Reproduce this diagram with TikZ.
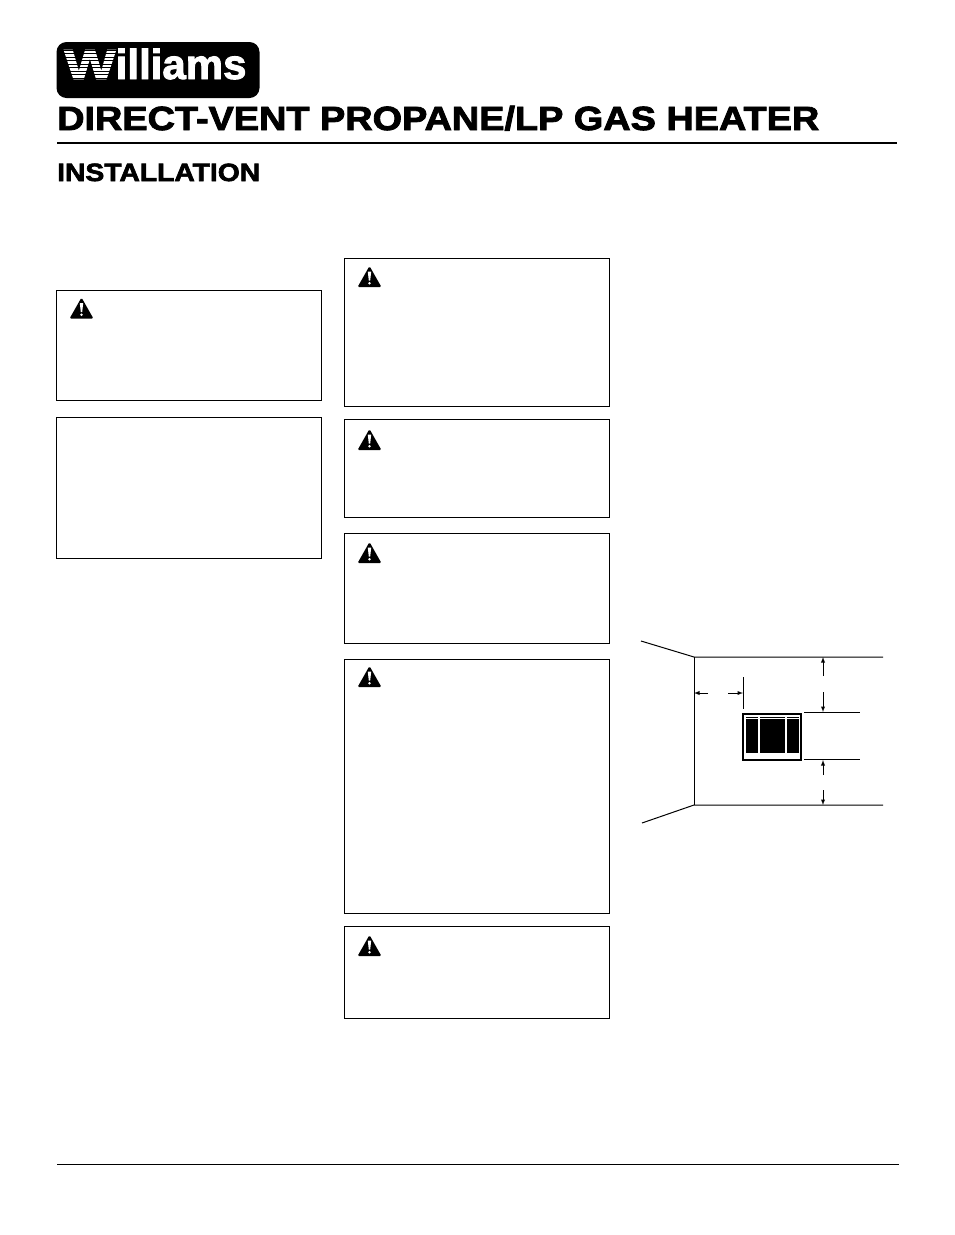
\documentclass[tikz,border=0pt]{standalone}
\usepackage{fontspec}
\setmainfont{Liberation Sans}
\newfontfamily\widefont[FakeStretch=1.13,FakeBold=2.6]{Liberation Sans Bold}
\newfontfamily\logofont[FakeBold=2.2]{Liberation Sans Bold}
\usetikzlibrary{shapes,arrows}
\tikzstyle{warnbox} = [rectangle, draw, line width=0.9pt, anchor=north west, inner sep=0pt, outer sep=0pt]
\tikzstyle{wallline} = [line width=1pt]
\tikzstyle{dimline} = [line width=0.9pt]
\newcommand{\warnmark}[1]{
   \begin{scope}[shift={#1}]
      \fill[rounded corners=1.5pt] (0,-11) -- (12,10.2) -- (-12,10.2) -- cycle;
      \fill[white] (-1.7,-5.5) -- (1.7,-5.5) -- (0.7,3.6) -- (-0.7,3.6) -- cycle;
      \fill[white] (0,6.3) circle (1.4);
   \end{scope}
}
\begin{document}
\begin{tikzpicture}[x=1pt, y=-1pt, >=latex]
   \useasboundingbox (0,0) rectangle (954,1235);
   % header
   \node[fill=black, rounded corners=10pt, minimum width=203pt, minimum height=56pt, inner sep=0pt] (logo) at (158,70) {};
   \node[anchor=base west, inner sep=0pt, text=white] (brand) at (64,79) {\logofont\fontsize{42}{42}\selectfont \scalebox{1.3}[1]{W}illiams};
   \foreach \y in {50,53.5,...,78}
      \draw[black, line width=0.9pt] (62,\y) -- (118,\y);
   \node[anchor=base west, inner sep=0pt] (title) at (57,130) {\widefont\fontsize{33.5}{33.5}\selectfont DIRECT-VENT PROPANE/LP GAS HEATER};
   \node[anchor=base west, inner sep=0pt] (heading) at (57,181) {\widefont\fontsize{25}{25}\selectfont INSTALLATION};
   \coordinate (titleL) at (57,143);
   \coordinate (titleR) at (897,143);
   \coordinate (footL) at (57,1164);
   \coordinate (footR) at (899,1164);
   \draw[line width=1.8pt] (titleL) -- (titleR);
   \draw[line width=0.9pt] (footL) -- (footR);

   % boxes
   \node[warnbox, minimum width=264.5pt, minimum height=109.5pt] (boxA) at (56.8,290.8) {};
   \node[warnbox, minimum width=264.5pt, minimum height=140.5pt] (boxB) at (56.8,417.8) {};
   \node[warnbox, minimum width=264.5pt, minimum height=147.5pt] (boxC) at (344.8,258.8) {};
   \node[warnbox, minimum width=264.5pt, minimum height=97.5pt]  (boxD) at (344.8,419.8) {};
   \node[warnbox, minimum width=264.5pt, minimum height=109.5pt] (boxE) at (344.8,533.8) {};
   \node[warnbox, minimum width=264.5pt, minimum height=253.5pt] (boxF) at (344.8,659.8) {};
   \node[warnbox, minimum width=264.5pt, minimum height=91.5pt]  (boxG) at (344.8,926.8) {};
   \warnmark{(81.5,308.5)}
   \warnmark{(369.5,277)}
   \warnmark{(369.5,440)}
   \warnmark{(369.5,553)}
   \warnmark{(369.5,677)}
   \warnmark{(369.5,946)}

   % wall
   \coordinate (cornerT) at (694,657);
   \coordinate (cornerB) at (694,805);
   \draw[wallline] (641,641) -- (cornerT) -- (883,657);
   \draw[wallline] (642,823) -- (cornerB) -- (883,805);
   \draw[wallline] (cornerT) -- (cornerB);

   % heater
   \node[rectangle, draw, line width=2pt, anchor=north west, inner sep=0pt, minimum width=58pt, minimum height=46pt] (heater) at (742,712.5) {};
   \fill (745.5,717) rectangle (758,752.5);
   \fill (759.5,717) rectangle (785,752.5);
   \fill (786.5,717) rectangle (799,752.5);
   \draw[white, line width=0.8pt] (745.5,718.8) -- (799,718.8);

   % dimensions
   \coordinate (sideA) at (708,693);
   \coordinate (sideB) at (694,693);
   \coordinate (sideC) at (728,693);
   \coordinate (sideD) at (743,693);
   \coordinate (upA) at (823,676);
   \coordinate (upB) at (823,657);
   \coordinate (upC) at (823,692);
   \coordinate (upD) at (823,712);
   \coordinate (lowA) at (823,775);
   \coordinate (lowB) at (823,760);
   \coordinate (lowC) at (823,790);
   \coordinate (lowD) at (823,805);
   \draw[dimline] (743,677) -- (743,709);
   \draw[dimline] (804,712) -- (860,712);
   \draw[dimline] (804,759.5) -- (860,759.5);
   \draw[dimline,->] (sideA) -- (sideB);
   \draw[dimline,->] (sideC) -- (sideD);
   \draw[dimline,->] (upA) -- (upB);
   \draw[dimline,->] (upC) -- (upD);
   \draw[dimline,->] (lowA) -- (lowB);
   \draw[dimline,->] (lowC) -- (lowD);
\end{tikzpicture}
\end{document}
